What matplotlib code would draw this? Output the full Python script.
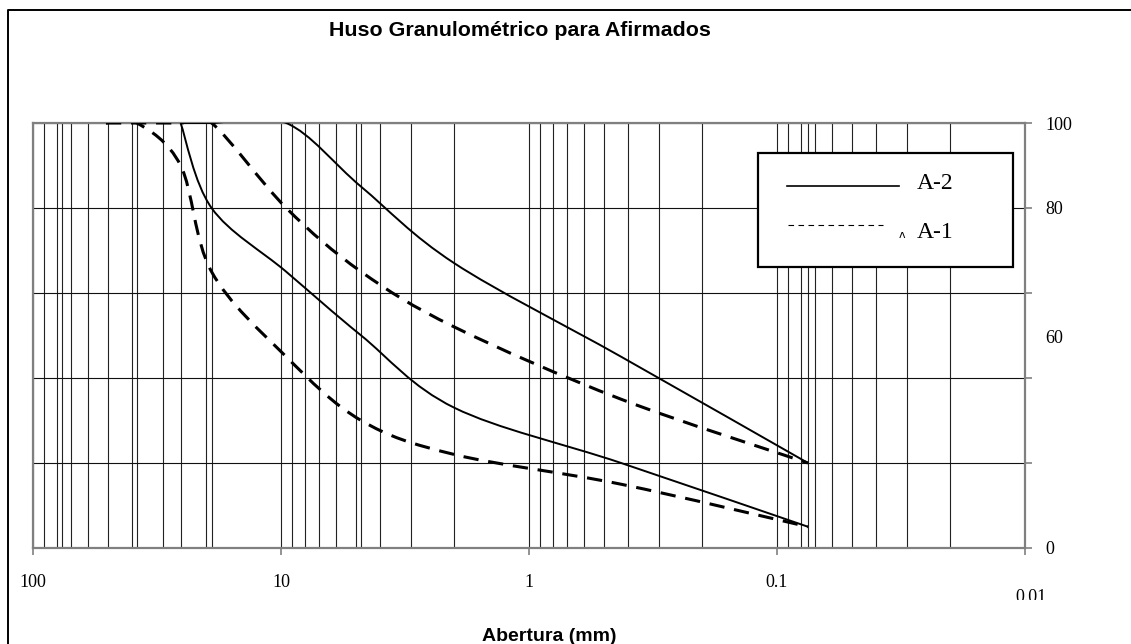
import matplotlib
matplotlib.use('Agg')
import matplotlib.pyplot as plt
import numpy as np
from matplotlib.path import Path
from matplotlib.patches import PathPatch, Rectangle
from matplotlib.lines import Line2D
from matplotlib.transforms import Bbox, TransformedBbox

# Sieve openings (mm) and passing limits (%)
sieves_a1 = [50.8, 38.1, 25.4, 19.05, 9.525, 4.75, 2.0, 0.425, 0.075]
a1_low = [100, 100, 90, 65, 45, 30, 22, 15, 5]
a1_high = [100, 100, 100, 100, 80, 65, 52, 35, 20]

sieves_a2 = [25.4, 19.05, 9.525, 4.75, 2.0, 0.425, 0.075]
a2_low = [100, 80, 65, 50, 33, 20, 5]
a2_high = [100, 100, 100, 85, 67, 45, 20]

x_ticks = [100, 10, 1, 0.1, 0.01]
x_tick_labels = ['100', '10', '1', '0.1', '0.01']
extra_sieves = [76.2, 38.1, 25.4, 19.05, 4.75, 0.075]
y_ticks = [0, 20, 40, 60, 80, 100]

W, H = 1131, 644


def fx(x):
    return x / W


def fy(y):
    return 1 - y / H


def smooth_path(xs, ys):
    # Excel-like smoothed line: cubic Bezier segments built in log-x space
    u = np.log10(np.asarray(xs, float))
    v = np.asarray(ys, float)
    n = len(u)
    verts = [(xs[0], ys[0])]
    codes = [Path.MOVETO]
    for i in range(n - 1):
        p0 = max(i - 1, 0)
        p3 = min(i + 2, n - 1)
        c1 = (u[i] + (u[i + 1] - u[p0]) / 6, v[i] + (v[i + 1] - v[p0]) / 6)
        c2 = (u[i + 1] - (u[p3] - u[i]) / 6, v[i + 1] - (v[p3] - v[i]) / 6)
        verts += [(10 ** c1[0], c1[1]), (10 ** c2[0], c2[1]), (xs[i + 1], ys[i + 1])]
        codes += [Path.CURVE4] * 3
    return Path(verts, codes)


fig = plt.figure(figsize=(W / 100, H / 100), dpi=100)
ax = fig.add_axes([fx(33), fy(548), fx(1025 - 33), (548 - 123) / H])

ax.set_xscale('log')
ax.set_xlim(100, 0.01)
ax.set_ylim(0, 100)

# vertical grid: log minors + sieve sizes
minors = []
for d in [10, 1, 0.1, 0.01]:
    minors += [d * k for k in range(2, 10)]
minors += extra_sieves
ax.set_xticks(x_ticks)
ax.set_xticklabels(x_tick_labels[:-1] + [''])
ax.set_xticks(minors, minor=True)
ax.xaxis.set_minor_formatter(plt.NullFormatter())
ax.grid(True, which='both', axis='x', color='#222222', lw=0.8)
ax.set_yticks(y_ticks)
ax.set_yticklabels(['0', '', '', '', '80', '100'])
ax.grid(True, which='major', axis='y', color='#111111', lw=0.8)
ax.yaxis.tick_right()

ax.tick_params(axis='x', which='major', direction='out', length=5, width=1.2,
               color='#808080', pad=14)
ax.tick_params(axis='x', which='minor', length=0)
ax.tick_params(axis='y', direction='out', length=5, width=1.2, color='#808080', pad=10)
for lab in ax.get_xticklabels() + ax.get_yticklabels():
    lab.set_family('Liberation Serif')
    lab.set_fontsize(13)
for s in ax.spines.values():
    s.set_color('#808080')
    s.set_linewidth(1.6)

# misplaced "60" label as in the original
fig.text(fx(1045), fy(338), '60', ha='left', va='center',
         family='Liberation Serif', fontsize=13)

# curves
for xs, ys in [(sieves_a2, a2_low), (sieves_a2, a2_high)]:
    ax.add_patch(PathPatch(smooth_path(xs, ys), fill=False, lw=1.4, color='black',
                           transform=ax.transData, zorder=3))
for xs, ys in [(sieves_a1, a1_low), (sieves_a1, a1_high)]:
    ax.add_patch(PathPatch(smooth_path(xs, ys), fill=False, lw=2.2, color='black',
                           ls=(0, (5, 3.2)), transform=ax.transData, zorder=3))

# 0.01 label, cut at the bottom as in the source
t = fig.text(fx(1031), fy(597), '0.01', ha='center', va='center',
             family='Liberation Serif', fontsize=13)
t.set_clip_box(TransformedBbox(Bbox([[0, fy(600)], [1, 1]]), fig.transFigure))
t.set_clip_on(True)

# legend box
fig.add_artist(Rectangle((fx(757.5), fy(266.5)), fx(1013 - 757.5), (266.5 - 152.5) / H,
                         transform=fig.transFigure, facecolor='white', edgecolor='black',
                         lw=1.6, zorder=5))
fig.add_artist(Line2D([fx(787), fx(899)], [fy(185.5), fy(185.5)], color='black', lw=1.2,
                      zorder=6))
fig.add_artist(Line2D([fx(788), fx(883)], [fy(224.5), fy(224.5)], color='black', lw=0.8,
                      ls=(0, (5, 4)), zorder=6))
fig.text(fx(917), fy(183.5), 'A-2', ha='left', va='center', family='Liberation Serif',
         fontsize=17, zorder=7)
fig.text(fx(917), fy(232.5), 'A-1', ha='left', va='center', family='Liberation Serif',
         fontsize=17, zorder=7)
fig.text(fx(902), fy(235), '\u028c', ha='center', va='center', family='DejaVu Sans',
         fontsize=8, zorder=7)

# title and axis label
fig.text(fx(519.5), fy(36), 'Huso Granulométrico para Afirmados', ha='center',
         va='baseline', family='Liberation Sans', weight='bold', fontsize=15.4)
fig.text(fx(549), fy(641), 'Abertura (mm)', ha='center', va='baseline',
         family='Liberation Sans', weight='bold', fontsize=14)

# outer frame
fig.add_artist(Line2D([fx(8), fx(8), 1], [0, fy(10), fy(10)], color='black', lw=1.4))

fig.savefig('out.png', dpi=100)
